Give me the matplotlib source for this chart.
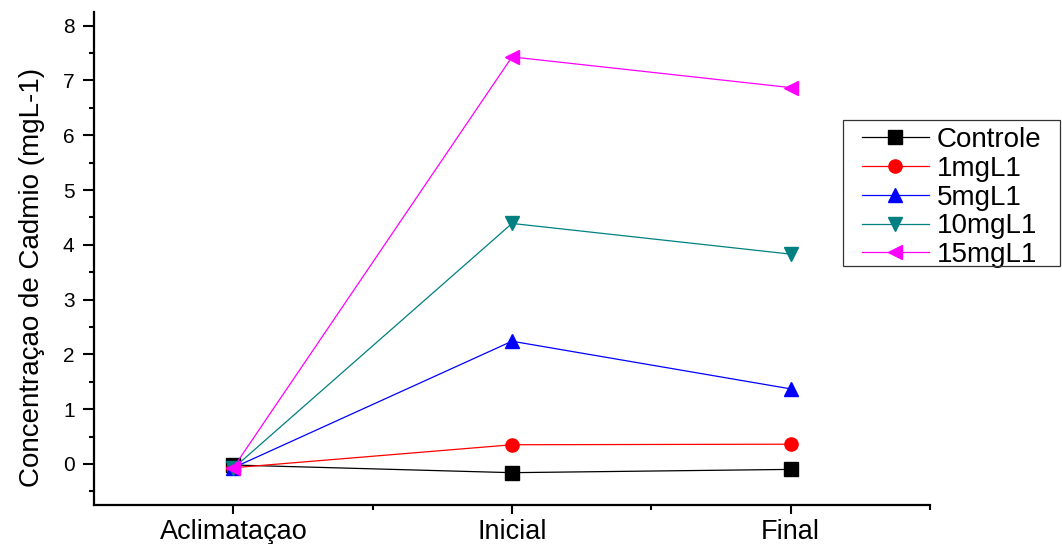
import matplotlib
matplotlib.use("Agg")
import matplotlib.pyplot as plt
from matplotlib.ticker import MultipleLocator, FixedLocator
from matplotlib.patches import Rectangle

plt.rcParams['font.family'] = ['Liberation Sans', 'DejaVu Sans']

categories = ["Aclimataçao", "Inicial", "Final"]
controle = [-0.02, -0.16, -0.10]
c1 = [-0.07, 0.35, 0.36]
c5 = [-0.07, 2.24, 1.37]
c10 = [-0.08, 4.39, 3.83]
c15 = [-0.07, 7.43, 6.87]

series = [
    ("Controle", controle, "#000000", "s"),
    ("1mgL1", c1, "#ff0000", "o"),
    ("5mgL1", c5, "#0000ff", "^"),
    ("10mgL1", c10, "#008080", "v"),
    ("15mgL1", c15, "#ff00ff", "<"),
]

W, H = 1062, 544
fig = plt.figure(figsize=(W / 100, H / 100), dpi=100)
ax = fig.add_axes([94 / W, 1 - 505 / H, (930 - 94) / W, (505 - 12) / H])

x = list(range(1, len(categories) + 1))
for name, vals, color, marker in series:
    ax.plot(x, vals, color=color, lw=0.9, marker=marker, markersize=9.5,
            markeredgecolor=color, markerfacecolor=color, label=name)

ax.set_xlim(0.5, 3.5)
ax.set_ylim(-0.75, 8.25)
ax.set_xticks(x)
ax.set_xticklabels(categories)
ax.xaxis.set_minor_locator(FixedLocator([1.5, 2.5, 3.5]))
ax.yaxis.set_major_locator(MultipleLocator(1))
ax.yaxis.set_minor_locator(MultipleLocator(0.5))

for side in ("top", "right"):
    ax.spines[side].set_visible(False)
for side in ("left", "bottom"):
    ax.spines[side].set_linewidth(1.6)

ax.tick_params(axis="both", which="major", direction="out", width=1.5)
ax.tick_params(axis="both", which="minor", direction="out", width=1.5)
ax.tick_params(axis="y", which="major", length=8, pad=6, labelsize=15)
ax.tick_params(axis="y", which="minor", length=3.6)
ax.tick_params(axis="x", which="major", length=6.5, pad=3.5, labelsize=19.5)
ax.tick_params(axis="x", which="minor", length=3.6)

ax.set_ylabel("Concentraçao de Cadmio (mgL-1)", fontsize=20)
ax.yaxis.set_label_coords(-0.059, 0.462)

leg = ax.legend(loc="upper left", bbox_to_anchor=(862 / W, 1 - 127 / H),
                bbox_transform=fig.transFigure, fontsize=20, frameon=False,
                handlelength=2.4, handletextpad=0.3, borderpad=0.0,
                labelspacing=0.1, borderaxespad=0)

# legend frame with wider side padding than top/bottom
fig.add_artist(Rectangle((843 / W, 1 - 266 / H), (1060 - 843) / W, (266 - 120) / H,
                         transform=fig.transFigure, fill=False,
                         edgecolor="#333333", linewidth=0.9, zorder=2))

fig.savefig("out.png", dpi=100, facecolor="white")
